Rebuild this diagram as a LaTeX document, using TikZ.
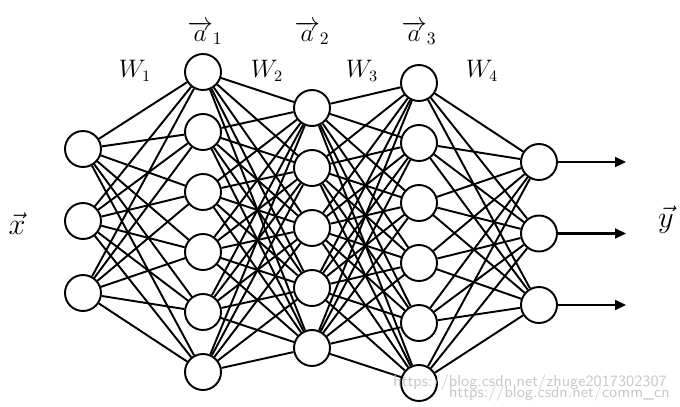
\documentclass[tikz,border=0pt]{standalone}
\usepackage{amsmath}
\usepackage{xcolor}
\usepackage{tikz}
\usetikzlibrary{arrows.meta,positioning}
\definecolor{wmgray}{HTML}{C8C8C8}

\begin{document}
\begin{tikzpicture}[
  x=0.02cm, y=-0.02cm,
  neuron/.style={draw=black, fill=white, circle, line width=1.1pt, minimum size=0.72cm, inner sep=0pt},
  link/.style ={line width=1.1pt, black},
  arr/.style  ={-{Triangle[length=2.2mm, width=2mm]}, line width=1.2pt, black},
  wlbl/.style ={font=\fontsize{13.5}{16}\selectfont},
  albl/.style ={font=\fontsize{14.5}{17}\selectfont},
  vlbl/.style ={font=\fontsize{17}{20}\selectfont},
  wmark/.style={font=\sffamily\fontsize{9}{10}\selectfont, text=wmgray, inner sep=0pt},
]
  \useasboundingbox (0,0) rectangle (680,406);

  % layers
  \foreach \i in {1,...,3} \node[neuron] (in\i)  at (83, {149+72*(\i-1)})  {};
  \foreach \i in {1,...,6} \node[neuron] (h1\i)  at (203, {72+60*(\i-1)})  {};
  \foreach \i in {1,...,5} \node[neuron] (h2\i)  at (312, {108+60*(\i-1)}) {};
  \foreach \i in {1,...,6} \node[neuron] (h3\i)  at (419, {83+60*(\i-1)})  {};
  \foreach \i in {1,...,3} \node[neuron] (out\i) at (539, {162+71.5*(\i-1)}) {};

  % weights
  \foreach \i in {1,...,3} \foreach \j in {1,...,6} \draw[link] (in\i) -- (h1\j);
  \foreach \i in {1,...,6} \foreach \j in {1,...,5} \draw[link] (h1\i) -- (h2\j);
  \foreach \i in {1,...,5} \foreach \j in {1,...,6} \draw[link] (h2\i) -- (h3\j);
  \foreach \i in {1,...,6} \foreach \j in {1,...,3} \draw[link] (h3\i) -- (out\j);

  % outputs
  \foreach \i in {1,...,3} {
    \coordinate (end\i) at (626, {162+71.5*(\i-1)});
    \draw[arr] (out\i) -- (end\i);
  }

  % labels
  \node[vlbl] (xvec) at (17, 224)  {$\vec{x}$};
  \node[vlbl] (yvec) at (666, 220) {$\vec{y}$};
  \node[albl] (a1) at (205, 33) {$\overrightarrow{a}_1$};
  \node[albl] (a2) at (312, 33) {$\overrightarrow{a}_2$};
  \node[albl] (a3) at (419, 33) {$\overrightarrow{a}_3$};
  \node[wlbl] (w1) at (135, 71) {$W_1$};
  \node[wlbl] (w2) at (267, 71) {$W_2$};
  \node[wlbl] (w3) at (362, 71) {$W_3$};
  \node[wlbl] (w4) at (482, 71) {$W_4$};

  % watermark
  \node[wmark, anchor=west] (wm1) at (393, 383) {https://blog.csdn.net/zhuge2017302307};
  \node[wmark, anchor=east] (wm2) at (670, 394) {https://blog.csdn.net/comm\_cn};
\end{tikzpicture}
\end{document}
